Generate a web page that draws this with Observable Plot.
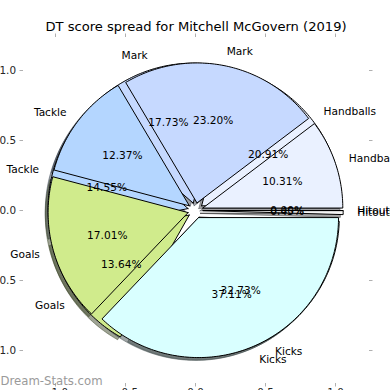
<!DOCTYPE html>
<html><head><meta charset="utf-8">
<script src="https://cdn.jsdelivr.net/npm/d3@7"></script>
<script src="https://cdn.jsdelivr.net/npm/@observablehq/plot@0.6"></script>
<style>html,body{margin:0;padding:0;background:#fff;overflow:hidden}</style>
</head><body><div id="chart"></div>
<script>
// Data
const categories = ["Handballs", "Mark", "Tackle", "Goals", "Kicks", "Hitouts"];
const pieA = [46, 39, 32, 30, 72, 1];   // 20.91, 17.73, 14.55, 13.64, 32.73, 0.45 %
const pieB = [20, 45, 24, 33, 72, 0];   // 10.31, 23.20, 12.37, 17.01, 37.11, 0.00 %
const colors = ["#eaf1ff", "#c6d9ff", "#b4d6ff", "#d0eb8c", "#d9ffff", "#f4f4f4"];
const axisTicks = [-1, -0.5, 0, 0.5, 1];
const title = "DT score spread for Mitchell McGovern (2019)";
const watermark = "Dream-Stats.com";

const explode = 0.055, labelDist = 1.1, pctDist = 0.6, shadowOff = -0.02;

function wedges(values) {
  const total = d3.sum(values);
  let a = 0;
  return values.map((v, i) => {
    const t1 = a, t2 = a + 2 * Math.PI * v / total; a = t2;
    const m = (t1 + t2) / 2;
    const cx = explode * Math.cos(m), cy = explode * Math.sin(m);
    const n = Math.max(2, Math.ceil((t2 - t1) / (Math.PI / 180)));
    const pts = [{x: cx, y: cy}];
    for (let k = 0; k <= n; k++) {
      const t = t1 + (t2 - t1) * k / n;
      pts.push({x: cx + Math.cos(t), y: cy + Math.sin(t)});
    }
    pts.push({x: cx, y: cy});
    const c = d3.rgb(colors[i]);
    return {
      cat: categories[i], color: colors[i],
      shade: d3.rgb(c.r * 0.3, c.g * 0.3, c.b * 0.3).formatHex(),
      pts,
      lx: cx + labelDist * Math.cos(m), ly: cy + labelDist * Math.sin(m),
      px: cx + pctDist * Math.cos(m), py: cy + pctDist * Math.sin(m),
      pct: (100 * v / total).toFixed(2) + "%"
    };
  });
}

const wA = wedges(pieA), wB = wedges(pieB);
const all = [...wA, ...wB];

const shadowMarks = all.map(w => Plot.line(w.pts, {
  x: d => d.x + shadowOff, y: d => d.y + shadowOff,
  fill: w.shade, stroke: w.shade, fillOpacity: 0.5, strokeOpacity: 0.5, strokeWidth: 1
}));
const wedgeMarks = all.map(w => Plot.line(w.pts, {
  x: "x", y: "y", fill: w.color, stroke: "black", strokeWidth: 1
}));

const textOpts = {fontSize: 10.6, fill: "black"};
const labelMarks = [];
for (const ws of [wA, wB]) {
  labelMarks.push(Plot.text(ws.filter(d => d.lx > 0), {x: "lx", y: "ly", text: "cat", textAnchor: "start", ...textOpts}));
  labelMarks.push(Plot.text(ws.filter(d => d.lx <= 0), {x: "lx", y: "ly", text: "cat", textAnchor: "end", ...textOpts}));
  labelMarks.push(Plot.text(ws, {x: "px", y: "py", text: "pct", textAnchor: "middle", ...textOpts}));
}

const fmt = d => d.toFixed(1).replace("-", "\u2212");
const tickStyle = {tickSize: 3.5, stroke: "#b0b0b0", label: null};

const chart = Plot.plot({
  width: 390, height: 390,
  marginTop: 36, marginBottom: 7, marginLeft: 23, marginRight: 22,
  x: {domain: [-1.2286, 1.2357]},
  y: {domain: [-1.2357, 1.2429]},
  style: {fontFamily: "DejaVu Sans", background: "white", color: "#262626"},
  marks: [
    Plot.axisY(axisTicks, {anchor: "left", ...tickStyle, tickPadding: 4, fontSize: 10.4, fill: "#262626", tickFormat: fmt}),
    Plot.axisY(axisTicks, {anchor: "right", ...tickStyle, tickFormat: () => ""}),
    Plot.axisX(axisTicks, {anchor: "top", ...tickStyle, tickFormat: () => ""}),
    Plot.axisX(axisTicks, {anchor: "bottom", ...tickStyle, tickPadding: 2, fontSize: 10.4, fill: "#262626", tickFormat: fmt}),
    ...shadowMarks,
    ...wedgeMarks,
    ...labelMarks,
    Plot.text([title], {frameAnchor: "top", dy: -6, lineAnchor: "bottom", fontSize: 13.1, fill: "black"}),
    Plot.text([watermark], {frameAnchor: "bottom-left", dx: -23, dy: -2, textAnchor: "start", lineAnchor: "middle", fontSize: 11.7, fill: "#9a9a9a"})
  ]
});
document.getElementById("chart").appendChild(chart);
</script>
</body></html>
